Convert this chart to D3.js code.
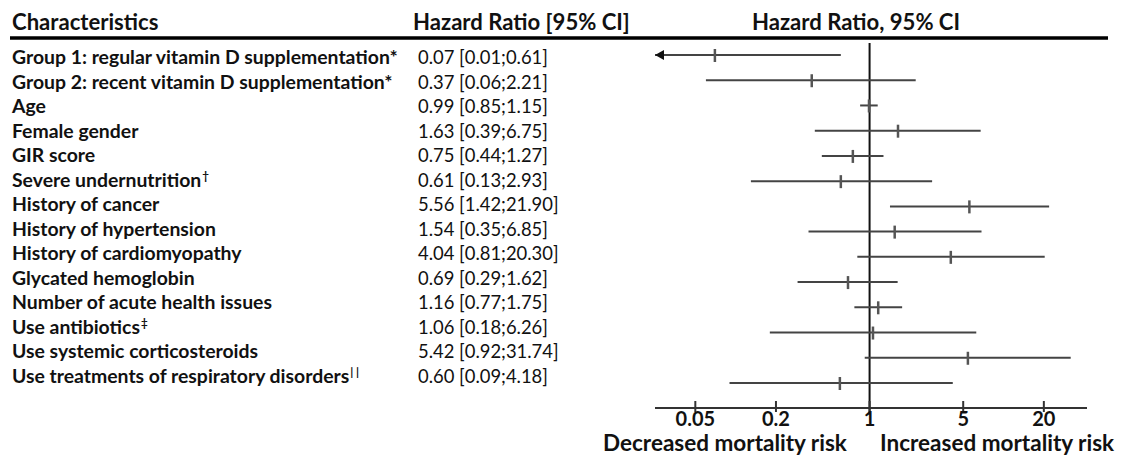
<!DOCTYPE html>
<html lang="en">
<head>
    <meta charset="UTF-8">
    <title>Forest plot</title>
    <script src="https://d3js.org/d3.v7.min.js"></script>
    <style>
        body { margin: 0; background: #fff; }
        text { font-family: Lato, "Open Sans", sans-serif; fill: #111; }
    </style>
</head>
<body>

<svg width="1133" height="456"></svg>
<script>

    // rows of the table, top to bottom
    var labels = [
        "Group 1: regular vitamin D supplementation*",
        "Group 2: recent vitamin D supplementation*",
        "Age",
        "Female gender",
        "GIR score",
        "Severe undernutrition",
        "History of cancer",
        "History of hypertension",
        "History of cardiomyopathy",
        "Glycated hemoglobin",
        "Number of acute health issues",
        "Use antibiotics",
        "Use systemic corticosteroids",
        "Use treatments of respiratory disorders"
    ];
    var footmarks = ["", "", "", "", "", "\u2020", "", "", "", "", "", "\u2021", "", "| |"];

    var hr = [0.07, 0.37, 0.99, 1.63, 0.75, 0.61, 5.56, 1.54, 4.04, 0.69, 1.16, 1.06, 5.42, 0.60];
    var ciLow = [0.01, 0.06, 0.85, 0.39, 0.44, 0.13, 1.42, 0.35, 0.81, 0.29, 0.77, 0.18, 0.92, 0.09];
    var ciHigh = [0.61, 2.21, 1.15, 6.75, 1.27, 2.93, 21.90, 6.85, 20.30, 1.62, 1.75, 6.26, 31.74, 4.18];

    var tickValues = [0.05, 0.2, 1, 5, 20];

    var svg = d3.select("svg");

    // pick a font size so that a sample string is as wide as in the original
    function fitSize(str, weight, width) {
        var t = svg.append("text").attr("font-size", 100).attr("font-weight", weight).text(str);
        var w = t.node().getComputedTextLength();
        t.remove();
        return 100 * width / w;
    }
    var labelSize = fitSize(labels[0], "bold", 386);
    var valueSize = fitSize("0.07 [0.01;0.61]", "normal", 130);
    var headSize = fitSize("Hazard Ratio [95% CI]", "bold", 217);
    var footSize = fitSize("Decreased mortality risk", "bold", 244);
    var tickSize = Math.min(fitSize("0.05", "bold", 40), 20);

    // scales
    var x = d3.scaleLog().domain([0.025, 42]).range([655, 1087]);
    var yMark = d3.scaleLinear().domain([0, labels.length - 1]).range([55, 383]);
    var yText = d3.scaleLinear().domain([0, labels.length - 1]).range([64, 383]);

    // headers
    svg.append("text").attr("x", 12).attr("y", 30)
        .attr("font-size", headSize).attr("font-weight", "bold").text("Characteristics");
    svg.append("text").attr("x", 413).attr("y", 30)
        .attr("font-size", headSize).attr("font-weight", "bold").text("Hazard Ratio [95% CI]");
    svg.append("text").attr("x", 856).attr("y", 30).attr("text-anchor", "middle")
        .attr("font-size", headSize).attr("font-weight", "bold").text("Hazard Ratio, 95% CI");

    svg.append("line")
        .attr("x1", 10).attr("x2", 1108).attr("y1", 38).attr("y2", 38)
        .attr("stroke", "#000").attr("stroke-width", 3.5);

    // label column
    var lab = svg.selectAll(".lab")
        .data(labels)
        .enter().append("text")
        .attr("class", "lab")
        .attr("x", 12)
        .attr("y", function (d, i) { return yText(i); })
        .attr("font-size", labelSize)
        .attr("font-weight", "bold");
    lab.append("tspan").text(function (d) { return d; });
    lab.append("tspan")
        .attr("font-size", labelSize * 0.6)
        .attr("dx", 1)
        .attr("dy", -7)
        .text(function (d, i) { return footmarks[i]; });

    // value column
    svg.selectAll(".val")
        .data(hr)
        .enter().append("text")
        .attr("class", "val")
        .attr("x", 418)
        .attr("y", function (d, i) { return yText(i); })
        .attr("font-size", valueSize)
        .text(function (d, i) {
            return d.toFixed(2) + " [" + ciLow[i].toFixed(2) + ";" + ciHigh[i].toFixed(2) + "]";
        });

    // reference line at 1
    svg.append("line")
        .attr("x1", x(1)).attr("x2", x(1))
        .attr("y1", 43).attr("y2", 413)
        .attr("stroke", "#111").attr("stroke-width", 2);

    // confidence interval lines
    var lo = function (i) { return Math.max(ciLow[i], x.domain()[0]); };
    svg.selectAll(".ci")
        .data(hr)
        .enter().append("line")
        .attr("class", "ci")
        .attr("x1", function (d, i) { return x(lo(i)); })
        .attr("x2", function (d, i) { return x(ciHigh[i]); })
        .attr("y1", function (d, i) { return yMark(i); })
        .attr("y2", function (d, i) { return yMark(i); })
        .attr("stroke", "#444").attr("stroke-width", 2);

    // arrow where the interval runs past the axis
    svg.selectAll(".arrow")
        .data(hr.map(function (d, i) { return i; }).filter(function (i) { return ciLow[i] < x.domain()[0]; }))
        .enter().append("path")
        .attr("class", "arrow")
        .attr("d", function (i) {
            var x0 = x(x.domain()[0]), y0 = yMark(i);
            return "M" + x0 + "," + y0 + "L" + (x0 + 9) + "," + (y0 - 5) + "L" + (x0 + 9) + "," + (y0 + 5) + "Z";
        })
        .attr("fill", "#111");

    // point estimates
    svg.selectAll(".pt")
        .data(hr)
        .enter().append("line")
        .attr("class", "pt")
        .attr("x1", function (d) { return x(d); })
        .attr("x2", function (d) { return x(d); })
        .attr("y1", function (d, i) { return yMark(i) - 6; })
        .attr("y2", function (d, i) { return yMark(i) + 7; })
        .attr("stroke", "#555").attr("stroke-width", 2.5);

    // axis
    var axisY = 408;
    svg.append("line")
        .attr("x1", x.range()[0]).attr("x2", x.range()[1])
        .attr("y1", axisY).attr("y2", axisY)
        .attr("stroke", "#333").attr("stroke-width", 2);

    svg.selectAll(".tick")
        .data(tickValues)
        .enter().append("line")
        .attr("class", "tick")
        .attr("x1", function (d) { return x(d); })
        .attr("x2", function (d) { return x(d); })
        .attr("y1", axisY - 7).attr("y2", axisY + 4)
        .attr("stroke", "#333").attr("stroke-width", 2);

    svg.selectAll(".tickLabel")
        .data(tickValues)
        .enter().append("text")
        .attr("class", "tickLabel")
        .attr("x", function (d) { return x(d); })
        .attr("y", 426)
        .attr("text-anchor", "middle")
        .attr("font-size", tickSize)
        .attr("font-weight", "bold")
        .text(function (d) { return d; });

    svg.append("text").attr("x", 603).attr("y", 451)
        .attr("font-size", footSize).attr("font-weight", "bold").text("Decreased mortality risk");
    svg.append("text").attr("x", 880).attr("y", 451)
        .attr("font-size", footSize).attr("font-weight", "bold").text("Increased mortality risk");

</script>

</body>
</html>
